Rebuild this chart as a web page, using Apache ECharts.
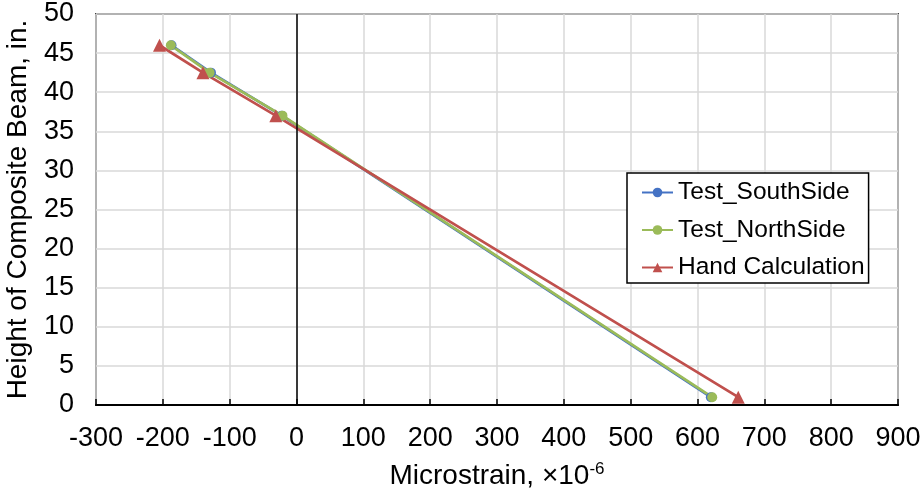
<!DOCTYPE html>
<html>
<head>
<meta charset="utf-8">
<script src="https://cdn.jsdelivr.net/npm/echarts@6/dist/echarts.min.js"></script>
<style>
  html, body { margin: 0; padding: 0; background: #fff; }
  #chart { width: 920px; height: 494px; }
</style>
</head>
<body>
<div id="chart"></div>
<script>
// data: [microstrain, height]
const southSide = [[-187, 46], [-128, 42.5], [-22, 37], [620, 1]]
const northSide = [[-188, 46], [-130, 42.5], [-21, 37], [622, 1]]
const handCalc = [[-205, 46], [-140, 42.5], [-31, 37], [661, 1]]

const xTicks = { min: -300, max: 900, interval: 100 }
const yTicks = { min: 0, max: 50, interval: 5 }

const font = 'Arial, "Liberation Sans", sans-serif'
const chart = echarts.init(document.getElementById('chart'))

function lineSeries(name, data, color, symbol, size) {
  return {
    name,
    type: 'line',
    data,
    symbol,
    symbolSize: size,
    showSymbol: true,
    lineStyle: { color, width: 2.75 },
    itemStyle: { color },
    emphasis: { disabled: true },
    z: 3
  }
}

const series = [
  lineSeries('Test_SouthSide', southSide, '#4472C4', 'circle', 10),
  lineSeries('Test_NorthSide', northSide, '#9BBB59', 'circle', 10),
  lineSeries('Hand Calculation', handCalc, '#C0504D', 'triangle', 13)
]
// vertical zero line
series[0].markLine = {
  silent: true,
  symbol: 'none',
  label: { show: false },
  lineStyle: { color: '#000', width: 1.5, type: 'solid' },
  data: [{ xAxis: 0 }]
}

chart.setOption({
  animation: false,
  textStyle: { fontFamily: font },
  grid: {
    left: 96, right: 22, top: 14, bottom: 89,
    outerBoundsMode: 'none',
    show: true, borderColor: '#404040', borderWidth: 2, backgroundColor: 'transparent'
  },
  legend: {
    orient: 'vertical',
    left: 627,
    top: 173,
    padding: [7, 4, 3, 14],
    itemGap: 12.5,
    itemWidth: 31,
    itemHeight: 12,
    borderColor: '#000',
    borderWidth: 1.5,
    borderRadius: 0,
    backgroundColor: '#fff',
    textStyle: { fontSize: 24.5, color: '#000', fontFamily: font },
    data: ['Test_SouthSide', 'Test_NorthSide', 'Hand Calculation']
  },
  xAxis: {
    type: 'value',
    min: xTicks.min,
    max: xTicks.max,
    interval: xTicks.interval,
    name: '{n|Microstrain, ×10}{s|-6}',
    nameLocation: 'middle',
    nameGap: 56,
    nameTextStyle: {
      rich: {
        n: { fontSize: 28, color: '#000', fontFamily: font },
        s: { fontSize: 17, color: '#000', fontFamily: font, verticalAlign: 'top', padding: [0, 0, 14, 0] }
      }
    },
    axisLine: { onZero: false, lineStyle: { color: '#000', width: 2 } },
    axisTick: { show: true, inside: true, length: 6, lineStyle: { color: '#000', width: 1.5 } },
    axisLabel: { fontSize: 27, color: '#000', margin: 20 },
    splitLine: { lineStyle: { color: '#d9d9d9', width: 1.5 } }
  },
  yAxis: {
    type: 'value',
    min: yTicks.min,
    max: yTicks.max,
    interval: yTicks.interval,
    name: 'Height of Composite Beam, in.',
    nameLocation: 'middle',
    nameGap: 64,
    nameTextStyle: { fontSize: 28, color: '#000' },
    axisLine: { show: false },
    axisTick: { show: false },
    axisLabel: { fontSize: 27, color: '#000', margin: 22 },
    splitLine: { lineStyle: { color: '#d9d9d9', width: 1.5 } }
  },
  series
})
</script>
</body>
</html>
